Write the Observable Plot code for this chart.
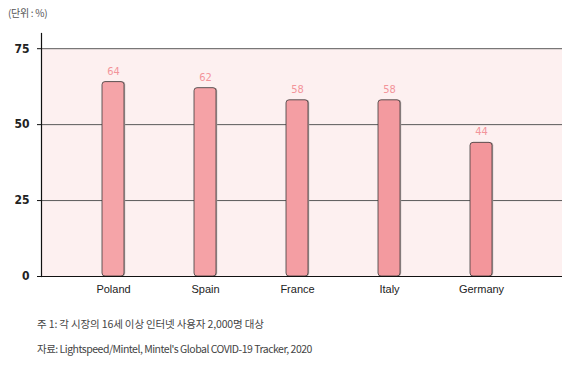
<!DOCTYPE html>
<html>
<head>
<meta charset="utf-8">
<script src="https://cdn.jsdelivr.net/npm/d3@7"></script>
<script src="https://cdn.jsdelivr.net/npm/@observablehq/plot@0.6"></script>
<style>
  body { margin: 0; background: #fff; font-family: "Noto Sans CJK KR", "Noto Sans", sans-serif; }
  #wrap { width: 575px; height: 367px; position: relative; }
  .unit { position: absolute; left: 8px; top: 5px; font-size: 10px; color: #555; letter-spacing: -0.3px; }
  #chart { position: absolute; left: 0; top: 28px; }
  .cap { position: absolute; left: 37px; font-size: 10.5px; color: #444; }
  .cond text, text.cond { font-stretch: condensed; }
</style>
</head>
<body>
<div id="wrap">
  <div class="unit">(단위 : %)</div>
  <div id="chart"></div>
  <div class="cap" style="top:316px; letter-spacing:-0.15px">주 1: 각 시장의 16세 이상 인터넷 사용자 2,000명 대상</div>
  <div class="cap" style="top:341px; letter-spacing:-0.5px">자료: Lightspeed/Mintel, Mintel's Global COVID-19 Tracker, 2020</div>
</div>
<script>
const countries = ["Poland", "Spain", "France", "Italy", "Germany"];
const values = [64, 62, 58, 58, 44];
const barColors = ["#f5a4a8", "#f5a2a6", "#f49ea3", "#f39a9f", "#f3969b"];
const yTicks = [0, 25, 50, 75];

const data = countries.map((c, i) => ({country: c, value: values[i], color: barColors[i]}));
const condensed = "'DejaVu Sans Condensed', 'DejaVu Sans', sans-serif";

const plot = Plot.plot({
  width: 575,
  height: 273,
  marginLeft: 41,
  marginRight: 13,
  marginTop: 5,
  marginBottom: 25,
  x: {domain: countries, range: [67, 527], padding: 0, label: null},
  y: {domain: [0, 80], ticks: yTicks, label: null},
  style: {background: "transparent"},
  marks: [
    Plot.rect([0], {y1: 0, y2: d3.max(yTicks), fill: "#fdf0f0"}),
    Plot.ruleY(yTicks.filter(d => d > 0), {stroke: "#5a5a5a", strokeWidth: 1}),
    Plot.barY(data, {x: "country", y: "value", fill: "#b5a5a5", insetLeft: 35, insetRight: 35, rx: 3, dx: 1.2}),
    Plot.barY(data, {x: "country", y: "value", fill: "color", stroke: "#3a3a3a", strokeWidth: 0.8, insetLeft: 35, insetRight: 35, rx: 3}),
    Plot.text(data, {x: "country", y: "value", text: d => String(d.value), dy: -11, fill: "#f3949a", fontSize: 11, fontWeight: 500, fontFamily: condensed, className: "cond"}),
    Plot.ruleY([0], {stroke: "#111", strokeWidth: 1.2}),
    Plot.frame({anchor: "left", stroke: "#111", strokeWidth: 1.2}),
    Plot.axisY(yTicks, {tickSize: 4, tickPadding: 8, fontSize: 12, fontWeight: "bold", fontFamily: condensed, fill: "#222", stroke: "#111", className: "cond"}),
    Plot.axisX({tickSize: 0, tickPadding: 9, fontSize: 11, fill: "#222", fontFamily: "'Liberation Sans', Arial, sans-serif"})
  ]
});
document.getElementById("chart").appendChild(plot);
</script>
</body>
</html>
